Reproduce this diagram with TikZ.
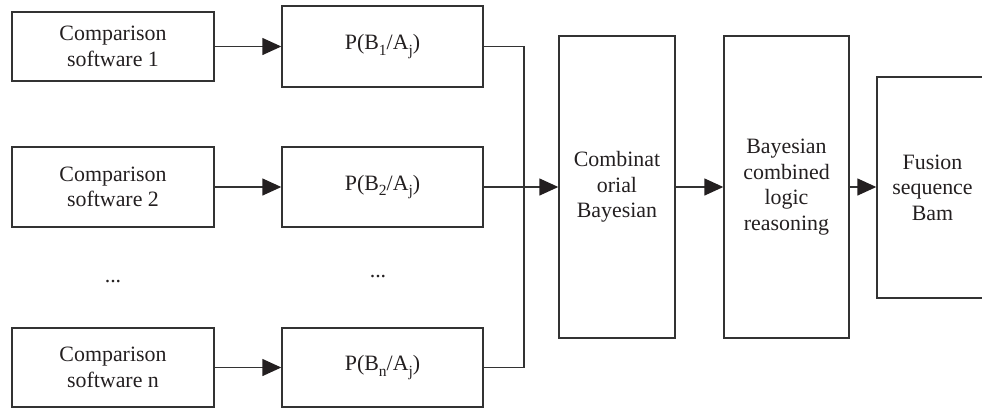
\documentclass[tikz,border=0pt]{standalone}
\usepackage{fontspec}
\setmainfont{Liberation Serif}
\usetikzlibrary{arrows.meta}
\definecolor{inkline}{HTML}{333333}
\definecolor{inkhead}{HTML}{231F20}
% lowered index for the probability labels
\newcommand{\lowidx}[1]{\raisebox{-5.5pt}{\fontsize{15.5}{15.5}\selectfont #1}}
\begin{document}
\begin{tikzpicture}[x=1pt,y=-1pt,
  every node/.style={font=\fontsize{21.9}{25.5}\selectfont, text=inkhead},
  box/.style={draw=inkline, line width=1.4pt, inner sep=0pt, align=center},
  link/.style={draw=inkline, line width=1.4pt},
  flow/.style={link, -{Triangle[length=19pt,width=17pt,color=inkhead]}},
  ellipsis/.style={inner sep=0pt}]
\useasboundingbox (0,0) rectangle (982,408);

% input sources
\node[box, minimum width=202pt, minimum height=69pt] (s1) at (113,46.5) {Comparison\\software 1};
\node[box, minimum width=202pt, minimum height=80pt] (s2) at (113,187) {Comparison\\software 2};
\node[box, minimum width=202pt, minimum height=79pt] (sn) at (113,367.5) {Comparison\\software n};

% conditional probabilities
\node[box, minimum width=201pt, minimum height=81pt] (p1) at (382.5,46.5) {P(B\lowidx{1}/A\lowidx{j})};
\node[box, minimum width=201pt, minimum height=80pt] (p2) at (382.5,187) {P(B\lowidx{2}/A\lowidx{j})};
\node[box, minimum width=201pt, minimum height=79pt] (pn) at (382.5,367.5) {P(B\lowidx{n}/A\lowidx{j})};

\node[ellipsis] (d1) at (113,282) {...};
\node[ellipsis] (d2) at (378,277) {...};

% fusion chain
\node[box, minimum width=116pt, minimum height=302pt] (comb) at (617,187) {Combinat\\orial\\Bayesian};
\node[box, minimum width=125pt, minimum height=302pt] (bay) at (786.5,187) {Bayesian\\combined\\logic\\reasoning};
\node[box, minimum width=111pt, minimum height=221pt] (fus) at (932.5,187.5) {Fusion\\sequence\\Bam};

% collector bus
\coordinate (j1) at (524,46.5);
\coordinate (jn) at (524,367.5);

\draw[flow] (s1) -- (p1);
\draw[flow] (s2) -- (p2);
\draw[flow] (sn) -- (pn);
\draw[link] (p1.east) -- (j1) -- (jn) -- (pn.east);
\draw[flow] (p2.east) -- (comb.west);
\draw[flow] (comb) -- (bay);
\draw[flow] (bay.east) -- (fus.west |- bay.east);
\end{tikzpicture}
\end{document}
